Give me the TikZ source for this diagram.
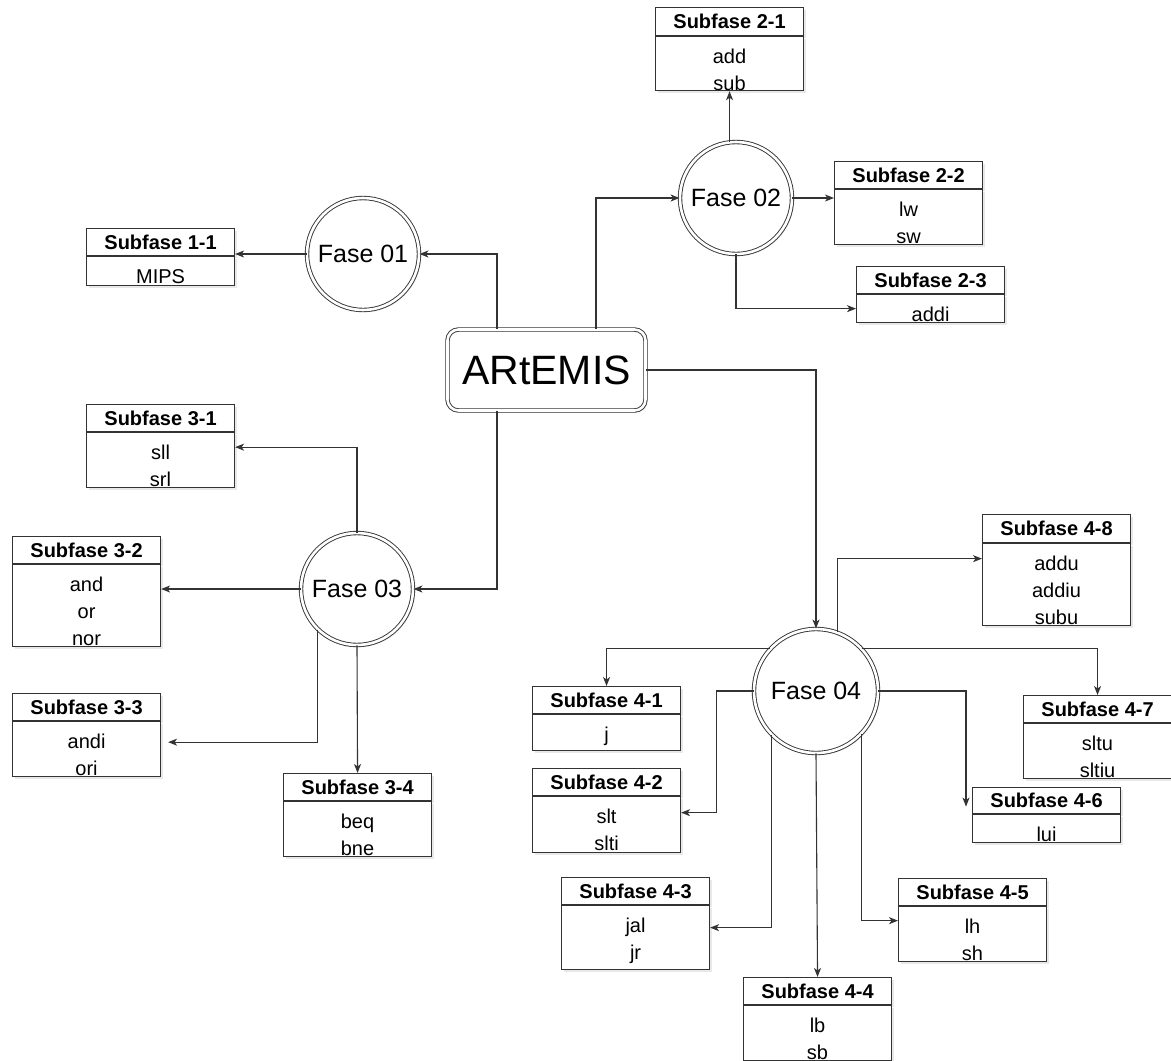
\documentclass[tikz,border=0pt]{standalone}
\usepackage{fontspec}
\setmainfont{Liberation Sans}
\usetikzlibrary{arrows.meta,shadows,calc}
\definecolor{ln}{HTML}{333333}
\newcommand\subbx[7]{%
  \node[hdrbox, minimum height=#4pt, anchor=north west] (#1h) at (#2,#3) {#6};
  \node[bodybox, minimum height=#5pt, anchor=north west] (#1) at (#1h.south west) {};
  \foreach \tt [count=\k] in {#7} {
    \node[linetext, anchor=base] (#1t\k) at ([yshift={-27pt*\k}]#1.north) {\tt};
  }
}
\begin{document}
\begin{tikzpicture}[x=1pt,y=-1pt,
  shd/.style={drop shadow={opacity=0.18, shadow xshift=2pt, shadow yshift=-2pt}},
  hdrbox/.style={rectangle, draw=ln, line width=1.1pt, fill=white, minimum width=148pt, inner sep=0pt,
    font=\fontsize{20}{24}\selectfont\bfseries, shd},
  bodybox/.style={rectangle, draw=ln, line width=1.1pt, fill=white, minimum width=148pt, inner sep=0pt, shd},
  linetext/.style={inner sep=0pt, font=\fontsize{20}{24}\selectfont},
  phase/.style={circle, draw=ln, double=white, double distance=2.6pt, line width=0.9pt, fill=white,
    minimum size=112pt, inner sep=0pt, font=\fontsize{25}{30}\selectfont, shd},
  conn/.style={draw=ln, line width=1.1pt, -{Stealth[length=9pt,width=7pt,inset=2.5pt]}},
]
\useasboundingbox (0,0) rectangle (1171,1061);

% central node
\node[rectangle, rounded corners=11pt, draw=ln, double=white, double distance=2.6pt, line width=0.9pt,
  fill=white, minimum width=198pt, minimum height=81pt, font=\fontsize{41}{48}\selectfont, shd]
  (art) at (546.5,370) {ARtEMIS};

% phases
\node[phase] (f01) at (363,254) {Fase 01};
\node[phase] (f02) at (736,198) {Fase 02};
\node[phase] (f03) at (357,589) {Fase 03};
\node[phase, minimum size=124pt] (f04) at (816,691) {Fase 04};

% subphase boxes
\subbx{b11}{86}{228}{27}{29}{Subfase 1-1}{MIPS}
\subbx{b21}{655}{7}{28}{54}{Subfase 2-1}{add,sub}
\subbx{b22}{834}{161}{27}{55}{Subfase 2-2}{lw,sw}
\subbx{b23}{856}{266}{27}{28}{Subfase 2-3}{addi}
\subbx{b31}{86}{404}{27}{55}{Subfase 3-1}{sll,srl}
\subbx{b32}{12}{536}{27}{82}{Subfase 3-2}{and,or,nor}
\subbx{b33}{12}{693}{27}{55}{Subfase 3-3}{andi,ori}
\subbx{b34}{283}{773}{27}{55}{Subfase 3-4}{beq,bne}
\subbx{b41}{532}{686}{27}{36}{Subfase 4-1}{j}
\subbx{b42}{532}{768}{27}{56}{Subfase 4-2}{slt,slti}
\subbx{b43}{561}{877}{27}{64}{Subfase 4-3}{jal,jr}
\subbx{b44}{743}{977}{27}{55}{Subfase 4-4}{lb,sb}
\subbx{b45}{898}{878}{27}{55}{Subfase 4-5}{lh,sh}
\subbx{b46}{972}{787}{26}{28}{Subfase 4-6}{lui}
\subbx{b47}{1023}{695}{27}{55}{Subfase 4-7}{sltu,sltiu}
\subbx{b48}{982}{514}{28}{82}{Subfase 4-8}{addu,addiu,subu}

% ARtEMIS to phases
\draw[conn] ([xshift=-49.5pt]art.north) |- (f01.east);
\draw[conn] ([xshift=49.5pt]art.north) |- (f02.west);
\draw[conn] ([xshift=-49.5pt]art.south) |- (f03.east);
\draw[conn] (art.east) -| (f04.north);

% phase 1
\draw[conn] (f01.west) -- (f01.west -| b11.east);

% phase 2
\draw[conn] (b21.south |- f02.north) -- (b21.south);
\draw[conn] (f02.east) -- (f02.east -| b22.west);
\draw[conn] (f02.south) |- (b23.west);

% phase 3
\draw[conn] (f03.north) |- ([yshift=13pt]b31.east);
\draw[conn] (f03.west) -- (f03.west -| b32.east);
\draw[conn] (f03.226) |- ([xshift=7pt,yshift=7pt]b33.east);
\draw[conn] (f03.south) -- (b34h.north);

% phase 4
\draw[conn] (f04.70) |- ([yshift=26pt]b48.west);
\draw[conn] (f04.137) -| (b41h.north);
\draw[conn] (f04.43) -| (b47h.north);
\draw[conn] (f04.west) -| ([xshift=35pt,yshift=12pt]b42.east) -- ([yshift=12pt]b42.east);
\draw[conn] (f04.east) -| ([xshift=-6pt,yshift=-6pt]b46h.west);
\draw[conn] (f04.225) |- ([yshift=10pt]b43.east);
\draw[conn] (f04.south) -- (b44h.north);
\draw[conn] (f04.317) |- ([yshift=13.5pt]b45.west);
\end{tikzpicture}
\end{document}
